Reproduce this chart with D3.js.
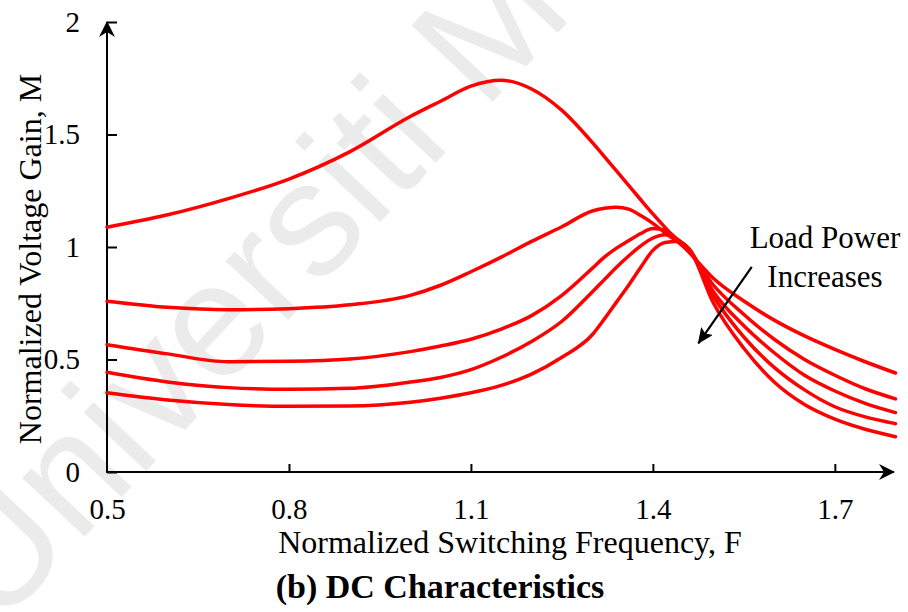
<!DOCTYPE html>
<html>
<head>
<meta charset="utf-8">
<script src="https://cdn.jsdelivr.net/npm/d3@7"></script>
<style>
  html, body { margin: 0; padding: 0; background: #fff; }
  svg { display: block; }
</style>
</head>
<body>
<svg id="chart" width="908" height="612"></svg>
<script>
// ---- data ----
const freq = [0.5, 0.6, 0.7, 0.8, 0.9, 1.0, 1.05, 1.1, 1.15, 1.2, 1.25, 1.3, 1.32, 1.34, 1.36, 1.38, 1.4, 1.42, 1.44, 1.46, 1.5, 1.55, 1.6, 1.65, 1.7, 1.75, 1.8];
const gain1 = [1.088, 1.143, 1.215, 1.302, 1.423, 1.58, 1.648, 1.715, 1.741, 1.702, 1.607, 1.465, 1.402, 1.338, 1.274, 1.21, 1.147, 1.087, 1.03, 0.975, 0.86, 0.76, 0.675, 0.605, 0.545, 0.49, 0.44];
const gain2 = [0.759, 0.732, 0.721, 0.726, 0.743, 0.785, 0.83, 0.89, 0.955, 1.025, 1.09, 1.16, 1.172, 1.177, 1.168, 1.14, 1.105, 1.063, 1.025, 0.98, 0.83, 0.70, 0.59, 0.50, 0.43, 0.37, 0.325];
const gain3 = [0.566, 0.525, 0.49, 0.492, 0.502, 0.535, 0.56, 0.59, 0.635, 0.695, 0.785, 0.905, 0.955, 0.995, 1.028, 1.06, 1.082, 1.075, 1.035, 0.99, 0.80, 0.65, 0.53, 0.43, 0.36, 0.305, 0.264];
const gain4 = [0.443, 0.40, 0.375, 0.368, 0.372, 0.40, 0.42, 0.455, 0.51, 0.58, 0.67, 0.80, 0.855, 0.91, 0.96, 1.005, 1.04, 1.055, 1.035, 0.99, 0.78, 0.60, 0.465, 0.365, 0.29, 0.245, 0.215];
const gain5 = [0.352, 0.32, 0.30, 0.292, 0.293, 0.31, 0.328, 0.352, 0.385, 0.435, 0.51, 0.61, 0.68, 0.755, 0.83, 0.91, 0.985, 1.02, 1.025, 0.99, 0.75, 0.55, 0.40, 0.30, 0.235, 0.19, 0.157];
const seriesList = [gain1, gain2, gain3, gain4, gain5];

const xTicks = [0.5, 0.8, 1.1, 1.4, 1.7];
const xTickMarks = [0.8, 1.1, 1.4, 1.7];
const yTicks = [0, 0.5, 1, 1.5, 2];
const yTickLabels = ["0", "0.5", "1", "1.5", "2"];

const xTitle = "Normalized Switching Frequency, F";
const yTitle = "Normalized Voltage Gain, M";
const caption = "(b) DC Characteristics";
const noteLines = ["Load Power", "Increases"];
const noteArrow = { from: [1.563, 0.912], to: [1.475, 0.572] };
const watermark = "Universiti Malaya";

// ---- drawing ----
const svg = d3.select("#chart");
const serif = "'Liberation Serif', 'Times New Roman', serif";

const x = d3.scaleLinear().domain([0.5, 1.8]).range([107, 895.5]);
const y = d3.scaleLinear().domain([0, 2]).range([472, 22]);

// watermark
svg.append("text")
  .attr("transform", "translate(-3,630) rotate(-46.8)")
  .attr("font-family", "'Liberation Sans', Arial, sans-serif")
  .attr("font-size", 162)
  .attr("fill", "#ebebeb")
  .text(watermark);

const defs = svg.append("defs");
defs.append("marker")
  .attr("id", "axisArrow")
  .attr("viewBox", "0 0 16 16")
  .attr("refX", 15).attr("refY", 8)
  .attr("markerWidth", 16).attr("markerHeight", 16)
  .attr("markerUnits", "userSpaceOnUse")
  .attr("orient", "auto")
  .append("path")
  .attr("d", "M0,0 L16,8 L0,16 L5,8 Z")
  .attr("fill", "#000");
defs.append("marker")
  .attr("id", "noteArrow")
  .attr("viewBox", "0 0 16 14")
  .attr("refX", 15).attr("refY", 7)
  .attr("markerWidth", 16).attr("markerHeight", 14)
  .attr("markerUnits", "userSpaceOnUse")
  .attr("orient", "auto")
  .append("path")
  .attr("d", "M0,0 L16,7 L0,14 L3,7 Z")
  .attr("fill", "#000");

// axes
const yAxis = d3.axisLeft(y).tickValues(yTicks)
  .tickFormat((d, i) => yTickLabels[i])
  .tickSizeInner(-10).tickSizeOuter(0).tickPadding(27);
const gy = svg.append("g").attr("transform", `translate(${x(0.5)},0)`).call(yAxis);
gy.select(".domain").remove();
gy.selectAll(".tick line").attr("stroke", "#000").attr("stroke-width", 2);
gy.selectAll(".tick text").attr("font-family", serif).attr("font-size", 29).attr("fill", "#000");

const xAxis = d3.axisBottom(x).tickValues(xTicks)
  .tickFormat(d3.format(".1f"))
  .tickSizeInner(-8).tickSizeOuter(0).tickPadding(26);
const gx = svg.append("g").attr("transform", `translate(0,${y(0)})`).call(xAxis);
gx.select(".domain").remove();
gx.selectAll(".tick line").attr("stroke", "#000").attr("stroke-width", 2)
  .attr("opacity", d => xTickMarks.includes(d) ? 1 : 0);
gx.selectAll(".tick text").attr("font-family", serif).attr("font-size", 29).attr("fill", "#000");

// axis lines with arrows
svg.append("line")
  .attr("x1", x(0.5)).attr("y1", y(0)).attr("x2", x(0.5)).attr("y2", y(2))
  .attr("stroke", "#000").attr("stroke-width", 2).attr("marker-end", "url(#axisArrow)");
svg.append("line")
  .attr("x1", x(0.5) - 1).attr("y1", y(0)).attr("x2", 894).attr("y2", y(0))
  .attr("stroke", "#000").attr("stroke-width", 2).attr("marker-end", "url(#axisArrow)");

// curves
const line = d3.line()
  .x((d, i) => x(freq[i]))
  .y(d => y(d))
  .curve(d3.curveMonotoneX);

svg.append("g").selectAll("path")
  .data(seriesList)
  .join("path")
  .attr("d", d => line(d))
  .attr("fill", "none")
  .attr("stroke", "#ff0000")
  .attr("stroke-width", 3.5)
  .attr("stroke-linejoin", "round")
  .attr("stroke-linecap", "round");

// annotation
svg.append("line")
  .attr("x1", x(noteArrow.from[0])).attr("y1", y(noteArrow.from[1]))
  .attr("x2", x(noteArrow.to[0])).attr("y2", y(noteArrow.to[1]))
  .attr("stroke", "#000").attr("stroke-width", 2.2)
  .attr("marker-end", "url(#noteArrow)");
svg.append("text")
  .attr("x", 825).attr("y", 248)
  .attr("text-anchor", "middle")
  .attr("font-family", serif).attr("font-size", 31)
  .text(noteLines[0]);
svg.append("text")
  .attr("x", 825).attr("y", 287)
  .attr("text-anchor", "middle")
  .attr("font-family", serif).attr("font-size", 31)
  .text(noteLines[1]);

// titles
svg.append("text")
  .attr("x", 510).attr("y", 553)
  .attr("text-anchor", "middle")
  .attr("font-family", serif).attr("font-size", 32)
  .text(xTitle);
svg.append("text")
  .attr("transform", "translate(41,259) rotate(-90)")
  .attr("text-anchor", "middle")
  .attr("font-family", serif).attr("font-size", 32)
  .text(yTitle);
svg.append("text")
  .attr("x", 440).attr("y", 598)
  .attr("text-anchor", "middle")
  .attr("font-family", serif).attr("font-size", 34).attr("font-weight", "bold")
  .text(caption);
</script>
</body>
</html>
